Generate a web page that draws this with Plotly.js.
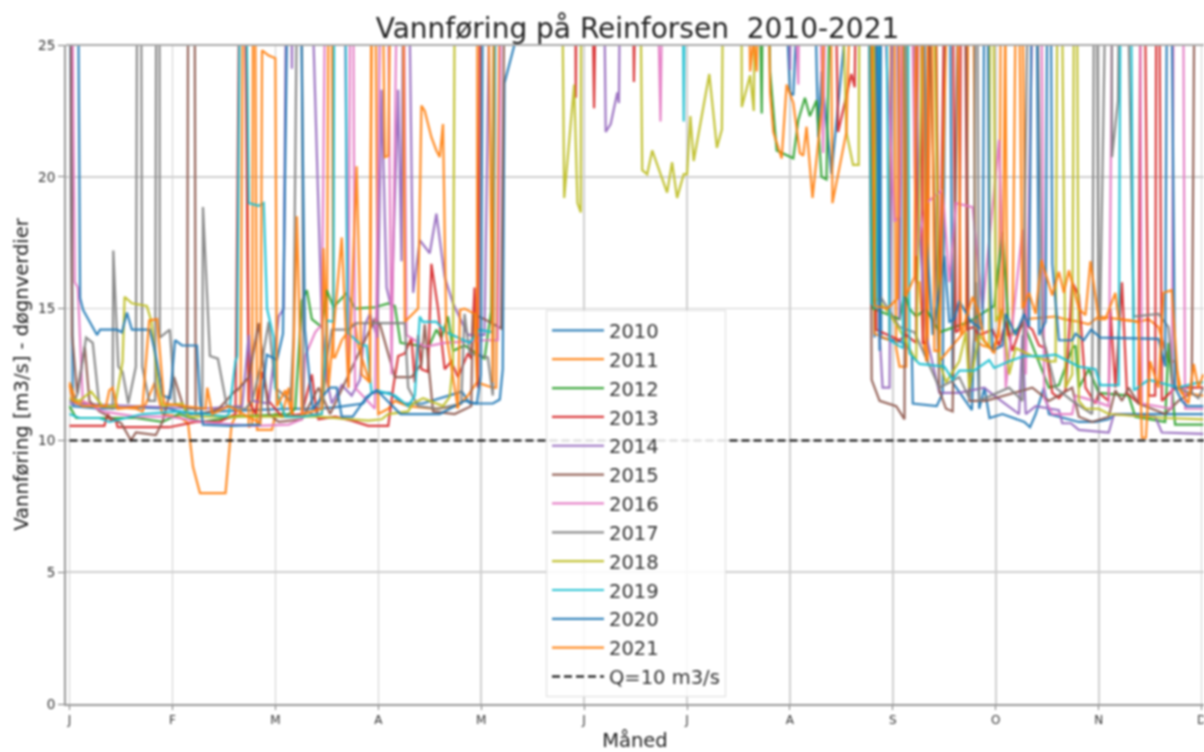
<!DOCTYPE html>
<html><head><meta charset="utf-8">
<script src="https://cdn.plot.ly/plotly-3.0.1.min.js"></script>
<style>html,body{margin:0;padding:0;background:#fff;overflow:hidden}#chart{width:1204px;height:752px;filter:blur(0.8px)}</style>
</head><body><div id="chart"></div>
<script>
const monthLabels = ["J","F","M","A","M","J","J","A","S","O","N","D"];
const monthDays = [0,31,62,93,124,155,186,217,248,279,310,341];
const years = ["2010","2011","2012","2013","2014","2015","2016","2017","2018","2019","2020","2021"];
const colors = ["#1f77b4","#ff7f0e","#2ca02c","#d62728","#9467bd","#8c564b","#e377c2","#7f7f7f","#bcbd22","#17becf","#1f77b4","#ff7f0e"];

const s2010 = [[0,32],[1,11.3],[9,11.2],[20,11.25],[30,11.2],[36,11],[45,11.1],[55,11.15],[63,11.2],[66.4,11.2],[75,11.2],[80,11.25],[88.4,11.4],[91,11.8],[96.5,11.8],[100.4,11.4],[106.4,11.4],[118.2,11.85],[120.6,11.4],[127.5,11.4],[129.6,11.55],[130.5,12.7],[131,23.55],[134,25],[137,32],[214,32],[216,26],[217,23.2],[218,23.1],[219,26],[224,30],[225.5,21.5],[226.5,24],[229.5,20.1],[234,26],[236,32],[241,32],[242.5,13.9],[243.5,40],[244.5,13.9],[251.5,13.7],[253.7,13.3],[254,11.4],[261.2,11.3],[263,11.8],[264.5,40],[266,12.2],[271.8,11.15],[273,16],[274,11.2],[275.6,12],[277.1,10.85],[281,11],[283,10.9],[287.6,10.7],[289.3,10.5],[291,11],[293.5,12],[295,11],[304,10.7],[309,10.7],[313,10.8],[315,11],[331,11],[341.5,11]];
const s2011 = [[0,12.2],[2,11.5],[10,11.3],[20,11.2],[22,11.1],[25.7,12.2],[28,11],[33,10.9],[35.7,10.66],[37.2,9],[39.3,8],[47,8],[48.8,10.6],[50,10.9],[51.5,11],[52.8,40],[54,10.5],[55,10.6],[55.5,40],[56.5,10.4],[61,10.4],[62,11],[64,10.9],[66,12],[67.5,10.9],[76,11],[77.5,13],[78.5,40],[79.5,13.15],[80,13.15],[82,13.8],[86,14.5],[87,13.55],[90.4,12.2],[91.5,40],[93,11],[96,11.2],[98,11.5],[102,11.3],[110,11.2],[117,11.3],[120,11.7],[122.7,12.2],[127.5,12],[128.5,12],[130,33],[137,40],[238,40],[240.5,40],[242.5,14.05],[247,13.8],[247.8,40],[249,13.5],[250,12.8],[252,12.8],[253,40],[255,16],[256,16],[257.5,13.3],[258.5,13],[260,40],[262,13],[270,14.2],[271.5,40],[273,13.8],[275,13.6],[278,13.5],[280,14],[281,40],[282.5,14],[284,14],[286,40],[288,14.6],[297,14.7],[299.6,14.6],[304,14.5],[307,14.4],[310,14.7],[316,14.6],[322,14.5],[325,14.6],[328,14.3],[330,13.4],[331,13],[333,13],[335,11.8],[341.5,11.7]];
const s2012 = [[0,11.3],[2,10.85],[10,10.85],[20,10.85],[28,10.7],[33,11],[40,10.7],[50,10.9],[66,11],[68,11.2],[70,15.3],[71.5,15.7],[73,14.6],[76,14.3],[77.5,15.7],[79.5,15.05],[83.5,15.6],[86,15],[92,15.05],[96,15.2],[98,15.1],[99.7,13.7],[105,13.6],[108,13.5],[110.5,14.2],[112,13.9],[114,14.7],[115.5,13.4],[119,13.6],[125,13.1],[127,14.9],[129,40],[206,40],[208.5,22.4],[209.5,40],[211,24],[213,21],[218,20.7],[219.5,22.15],[221.5,23],[223,22.3],[225,22.9],[226.5,20],[228,19.9],[231,40],[240,40],[242,15],[250,14.6],[251.5,15.6],[253,15],[255,14.7],[258,15],[262,14.1],[271,14.5],[278.5,15.1],[281,17.9],[283,14],[287.5,14.4],[295,12],[298,12.1],[302,13.5],[303,13.6],[304,12],[307,12.7],[310,11.8],[319,11.7],[321,10.9],[330,10.7],[331,13.7],[333,10.6],[341.5,10.6]];
const s2013 = [[0,10.55],[10.5,10.55],[11.5,11],[12.5,10.75],[14,10.75],[14.5,10.5],[30,10.5],[36,10.65],[38,10.7],[41,10.7],[45,10.7],[50,11],[52,40],[54,11.5],[56,11],[58,12.6],[60,11.5],[64,10.9],[70,11],[73,12.5],[74.5,11],[75,10.8],[80,10.9],[85,10.75],[90,10.55],[96,10.55],[97.5,12],[99,13.2],[101,13.3],[103,13.9],[104,12.2],[105,14],[106,12.7],[108,12.6],[109,16.7],[111,15],[113,12.7],[115,13],[117,12.4],[120,13.3],[121,13.1],[122,15.8],[123,12],[124,33],[128,40],[135,40],[152,40],[152.5,23],[153,40],[156,40],[158,22.6],[160,40],[169,40],[170,23.6],[172,40],[229,40],[231.5,21.7],[235.5,23.9],[236.5,23.4],[238,40],[241,40],[243,14.2],[250,13.8],[252,14],[255,13.7],[256,40],[257,13.7],[258,13.7],[259.5,40],[262,14],[265,40],[267,14.1],[268,14.2],[269,40],[270.5,14.2],[272,14.3],[274,14],[278,14.2],[280,13.6],[282,14.5],[284,13.4],[287,14.5],[290,14.2],[292,13.6],[294,13.5],[296,11.8],[298,11.6],[300,11.9],[302,16],[304,15.5],[306,12],[309,11.4],[310,11.8],[313,11.5],[313.5,15],[315,12],[317,16],[318.5,11.8],[322,11.4],[323,40],[325,11.7],[327,11.7],[327.6,40],[329,11.5],[333,12],[337,12],[341.5,12]];
const s2014 = [[0,11.4],[20,11.3],[40,11.2],[52,11.3],[54,14],[55,11.5],[60,11.4],[63,14.7],[64.5,15],[66,40],[67,24.1],[67.5,40],[70,40],[76,14.5],[77.5,12.3],[79,11.4],[82,12.1],[85,11.7],[87.5,12.3],[89,14.4],[90.5,14.8],[92.7,13.9],[94,23.3],[95.5,15.8],[97,15],[99,23.3],[100,16.8],[101,40],[103.5,15.6],[105.5,17.6],[108.5,17.1],[110.5,18.6],[113,16.2],[115.5,15.2],[120,14],[125,14],[128,40],[160,40],[161.5,21.7],[163,22],[165,23.2],[165.5,22.8],[166.5,40],[215,40],[217,24.05],[219,40],[240,40],[244,14],[244.9,12],[247,12],[248.5,40],[250,14.6],[252,40],[256,18],[258,14],[262,11.8],[268,11.8],[272,11.9],[275.5,12],[278.5,11.7],[284,11.2],[286,11],[287,14],[288,11],[291,11.3],[298,11.15],[299,10.65],[301.6,10.65],[304,10.4],[313,10.3],[314.6,11],[327,10.9],[329,10.3],[341.5,10.25]];
const s2015 = [[0,40],[0.8,14],[2.3,11.8],[4.6,13.55],[6,11.5],[9,11.1],[15.6,10.65],[18.5,10],[20,10.3],[26,10.2],[28,10.7],[31.5,12.4],[34,11.4],[35.4,11],[36,40],[37.5,40],[38,11],[40,11],[45,11.2],[50,11.9],[50.5,11.9],[54,12.4],[57,14.45],[60,11],[63,10.7],[70,10.8],[75,12],[78.5,11],[92,14.6],[93.5,14.4],[98,12.4],[103,12.4],[106,12.9],[107,14.4],[108.5,12.4],[109.5,11.1],[116,11],[121,11.3],[121.5,14.8],[125,14.6],[130,14.25],[132,40],[240,40],[241.6,12.3],[244,11.5],[249,11.3],[251.5,10.8],[252,40],[256,40],[262,11.9],[264,11.2],[266,11.1],[269,40],[271,11.5],[276,11.5],[290,12],[295,11.5],[302,12],[304,10.9],[308,10.7],[313,10.9],[315,11.9],[317,11.5],[319,12],[322,11.4],[330,11],[334,11.5],[338,11.8],[339.5,40],[341.5,40]];
const s2016 = [[0,40],[1.6,16],[2.5,15.8],[4,11.5],[10,11.1],[20,10.9],[30,10.9],[40,10.7],[50,10.6],[56,10.55],[66,10.6],[70,10.8],[71,13.2],[74,14.1],[76,14.4],[78,40],[80,40],[82,40],[84,12],[85,40],[86,12],[92,11.2],[95,40],[97,12.5],[100,40],[101.5,14],[107,13.55],[113,13.7],[125,13.8],[129,13.8],[131,40],[175,40],[178,22.1],[180,40],[214,40],[219.5,23.5],[221,40],[224,40],[227,20.9],[229,40],[240,40],[246,25],[248.5,18.3],[250,18.5],[252,40],[255,17],[258,19],[263,19.5],[265,16],[267,19],[272,18.85],[275,15],[280,21.4],[282,12],[287,18],[288,12.5],[292,40],[293.6,11.6],[296,11],[302,11],[303,11.7],[308.6,11.5],[313,11.3],[315,40],[322,40],[323,11.4],[332,11.2],[333,40],[335,40],[336,11.2],[341.5,11.2]];
const s2017 = [[0,11.5],[1.5,11.5],[2.5,11.8],[5,13.9],[7,13.7],[9,11.3],[13,11.2],[13.2,17.2],[14.7,12.8],[16,12.6],[17.7,11.4],[20,12.8],[20.7,40],[21.3,40],[21.9,12.8],[24,11.5],[25.8,11.5],[26.4,40],[27,40],[27.2,13.9],[30.2,14.2],[31.8,11.4],[35,11.2],[40,11.2],[40.2,18.85],[42.3,13.2],[44.7,13.1],[47.4,11.3],[53,11.2],[55,11.5],[58,13],[60,14.5],[62,12],[66.5,11.5],[67.5,13.9],[69.5,40],[70.5,11.2],[73,11],[74.5,10.9],[79,14.2],[84,14.2],[86.5,14.45],[101,14.45],[102,12],[105,11.3],[111,11.2],[118,11.4],[119,14.8],[120.5,13.3],[126,13.15],[127.5,11.7],[129,40],[240,40],[244,15.5],[250,14.3],[254.5,14.1],[260,12.6],[262,12],[265,12.2],[268,12.4],[271,11.6],[272.5,14],[273,40],[274,11.5],[283,12],[287,11.5],[290,40],[293,14],[297,12],[302,11.5],[308,11],[309,40],[310,11.5],[313.7,40],[314,20.75],[315.8,22.9],[317,40],[320.5,14.7],[328,14.8],[331,14.3],[332.5,12],[338,11.8],[340,11.6],[341.5,12]];
const s2018 = [[0,11.6],[3,11.5],[6.5,11.85],[10,11.3],[13.7,11.3],[16,13],[16.6,15.45],[18.8,15.2],[23.3,15.1],[24.7,14.5],[26.5,12.3],[28,11.3],[34,11.4],[36,10.9],[45,10.9],[60,10.9],[75,10.9],[85,10.8],[90,10.75],[94,10.8],[96,11],[102,11.1],[103.5,11.4],[106.5,11.6],[112.5,11.3],[114.5,11.65],[115.5,12.9],[116.5,40],[147,40],[147.5,40],[149,19.2],[152,23.5],[153,19],[154,18.65],[154.2,40],[171,40],[172.5,20.25],[174,20.1],[175.5,21],[177,20.45],[180,19.4],[181.5,20.55],[183,19.2],[185,20.1],[186,20.1],[187,22.3],[188,20.6],[192.7,23.9],[195,21.1],[196.5,21.8],[197.5,40],[202,40],[202.5,22.65],[205,23.85],[206.1,22.5],[207.5,40],[230,40],[234,21.7],[236,20.45],[237.7,20.45],[238.3,40],[241,40],[243,15.4],[247,14.8],[250,14.2],[255,13],[258,40],[259,40],[262,13],[264,12.2],[268,13],[270,14.1],[271,12],[274,14],[277,13.5],[277.5,40],[279,14.5],[281,15],[283,12.5],[285,13.5],[290,13.2],[295,13],[297,13],[298,40],[300,12],[302,12.5],[303,40],[304,11.5],[306,11.2],[310,11.2],[313,11],[330,10.85],[341.5,10.8]];
const s2019 = [[0,11],[3,10.85],[9,10.85],[12,10.7],[22,11],[33,11.1],[41,11],[47,10.9],[48,11],[50,13],[50.5,13.2],[52,40],[54,19],[57,18.9],[58.5,19],[59.5,15],[61.5,13.9],[62,12],[65,10.9],[70,10.9],[76,11],[77.5,14.55],[79.5,14.5],[80,40],[82.5,40],[83.7,14.1],[88,13.6],[89.5,13.6],[91,11.8],[92.6,11.9],[98,11.7],[102,11.3],[104,11.7],[105.5,14.7],[106.4,14.5],[110.5,14.5],[113.5,14.1],[120.5,13.7],[123.5,14.2],[127.5,14.1],[129,40],[184,40],[185,22.1],[186,40],[240,40],[241.6,15.2],[243,15],[245,40],[247,13.8],[251,13.5],[252,40],[253,13.3],[256,12.9],[263.5,12.8],[266,12.3],[268,12.65],[272.5,12.65],[277,13.05],[278.5,12.75],[283,13],[287.5,13.2],[293,13.2],[297,13.25],[304,12.8],[309,12.7],[310.5,12.1],[316,12.1],[317,40],[319,40],[320.6,11.9],[325,12.3],[334,12],[340,12.2],[341.5,12.2]];
const s2020 = [[0,40],[2,40],[3.2,15.4],[4.1,14.95],[8.3,14],[9.2,14.2],[14.3,14.2],[15.8,14.1],[17.3,14.85],[18.8,14.2],[24.2,14.2],[25.7,13.4],[28.1,11.7],[30.3,11.6],[31.8,13.8],[33.9,13.6],[38.4,13.6],[39.3,11.5],[40.2,10.6],[48.5,10.55],[57.3,10.6],[58.2,11.9],[59.4,13.25],[62.5,13.05],[64.3,14.05],[65.5,40],[67,40],[68.5,40],[70.9,14.2],[72.4,12.2],[73.3,11.2],[78.4,12],[80.5,12],[82,10.9],[85.3,10.9],[89.5,11.65],[92.6,11.9],[99.7,11],[111.5,11],[119,11.5],[122.7,11.4],[123.9,12.5],[125,40],[241,40],[242.5,40],[244,13.4],[244.9,40],[254.5,40],[256.5,40],[258,18],[260,14],[263.5,17],[265,14.5],[266.5,14.6],[268,15.3],[271.5,14.5],[275,14.2],[276,40],[277,17],[278,13.4],[281,13.6],[282,14.8],[285,14],[287.5,14.8],[289,14.3],[290.6,40],[292,14],[294,14.5],[295,40],[296,16.7],[297.5,14.5],[298,13.8],[302,13.8],[303,14.05],[305.5,13.8],[307.7,14.2],[310.5,13.9],[328,13.85],[330,12.8],[331,40],[333,12],[335,11.5],[336.5,11.3],[341.5,11.3]];
const s2021 = [[0,12.1],[1,11.5],[4,11.3],[11,11.3],[12,11.9],[13,12],[14.5,11.2],[22,11.3],[24,14.55],[26.4,14.6],[28.5,11.4],[35,11.3],[41,11.2],[41.5,12],[43,11],[48,11.3],[57.5,10.65],[58,24.8],[60,24.6],[62,24.5],[62.5,11.3],[65,11.9],[67,11],[68.5,18.5],[70,11],[76,11.2],[76.5,17.3],[78,12],[82,17.7],[84,12],[86.5,20.4],[88,12.5],[90.5,12.2],[91.5,40],[93,40],[95,20.75],[96,20.8],[98,40],[100,40],[101,14.5],[105,15],[106,22.7],[107,22.5],[109,21.5],[110.5,21],[111.5,20.75],[112.5,22],[113.5,14],[117,11.2],[117.6,14.95],[119,15],[122,14.8],[122.7,12.2],[123,40],[125,40],[127.5,12.2],[128,40],[203,40],[205,24],[206,25.2],[207,24],[209,40],[211,23.2],[212,21.7],[214.5,20.7],[216,23.5],[218,22.8],[220,20.9],[221,20.8],[222,21.9],[223.8,19.2],[226.8,22.9],[228.5,40],[229.8,19],[234,21.7],[238,40],[240,40],[242.5,15.1],[246.4,15],[249.5,15.4],[250.5,40],[251.5,15.5],[252,15.5],[254.5,16.2],[256,40],[258,13],[259,40],[260.5,13.4],[262,13.4],[266.5,40],[268.5,14],[272,15.45],[274,14.8],[275.5,13.8],[278.5,13.3],[281,15],[283,40],[285,40],[287,15],[289,15.6],[291,14.8],[292.7,16.85],[296,15.5],[298,16.4],[299.5,15.6],[301,16.45],[304,15],[306,14.75],[307.5,16.8],[310,14.6],[312,14.6],[315,15.6],[316,14.6],[322,14.5],[323,10.1],[324.2,10.1],[325.5,13],[328,12],[329.5,15.6],[332,15.7],[334,12],[337,11.4],[338.6,12.9],[340,12],[341.5,12.5]];
const allSeries = [s2010,s2011,s2012,s2013,s2014,s2015,s2016,s2017,s2018,s2019,s2020,s2021];
const qLevel = [[0,10],[341.7,10]];

const traces = allSeries.map((s,i)=>({
  x:s.map(p=>p[0]), y:s.map(p=>p[1]), name:years[i], mode:"lines", type:"scatter",
  legendgroup:"g"+i, line:{color:colors[i],width:2.2,shape:"linear"}, opacity:0.9
}));
traces.push({x:qLevel.map(p=>p[0]),y:qLevel.map(p=>p[1]),name:"Q=10 m3/s",mode:"lines",type:"scatter",legendgroup:"q",
  line:{color:"#000",width:2,dash:"8px,4px"}});

Plotly.newPlot("chart",traces,{
  width:1204,height:752,paper_bgcolor:"#fff",plot_bgcolor:"#fff",
  margin:{l:66,r:0,t:45,b:48},
  font:{family:"DejaVu Sans",color:"#222"},
  title:{text:"Vannføring på Reinforsen  2010-2021",font:{size:28,color:"#222"},x:0.5295,xanchor:"center",y:0.963,yanchor:"middle",yref:"container"},
  xaxis:{range:[-1.05,341.7],tickmode:"array",tickvals:monthDays,ticktext:monthLabels,tickfont:{size:12,color:"#333"},ticklabeloverflow:"allow",
    showgrid:true,gridcolor:"#cfcfcf",gridwidth:1.5,zeroline:false,showline:true,linecolor:"#999",linewidth:2,ticks:"outside",ticklen:4,tickcolor:"#777",
    title:{text:"Måned",font:{size:19.5,color:"#222"},standoff:8}},
  yaxis:{range:[0,25],tickvals:[0,5,10,15,20,25],tickfont:{size:13.5,color:"#333"},
    showgrid:true,gridcolor:"#cfcfcf",gridwidth:1.5,zeroline:false,showline:true,linecolor:"#999",linewidth:2,ticks:"outside",ticklen:6,tickcolor:"#777",
    title:{text:"Vannføring [m3/s] - døgnverdier",font:{size:19.5,color:"#222"},standoff:4}},
  shapes:[{type:"line",xref:"paper",yref:"paper",x0:0,x1:1,y0:1,y1:1,line:{color:"#aaa",width:2}}],
  legend:{x:0.4218,y:0.5976,xanchor:"left",yanchor:"top",bgcolor:"rgba(255,255,255,0.85)",bordercolor:"#ddd",borderwidth:1,
    font:{size:19.5,color:"#333"},itemwidth:52,tracegroupgap:0.5,traceorder:"grouped"},
  showlegend:true
},{displayModeBar:false,staticPlot:true});
</script></body></html>
